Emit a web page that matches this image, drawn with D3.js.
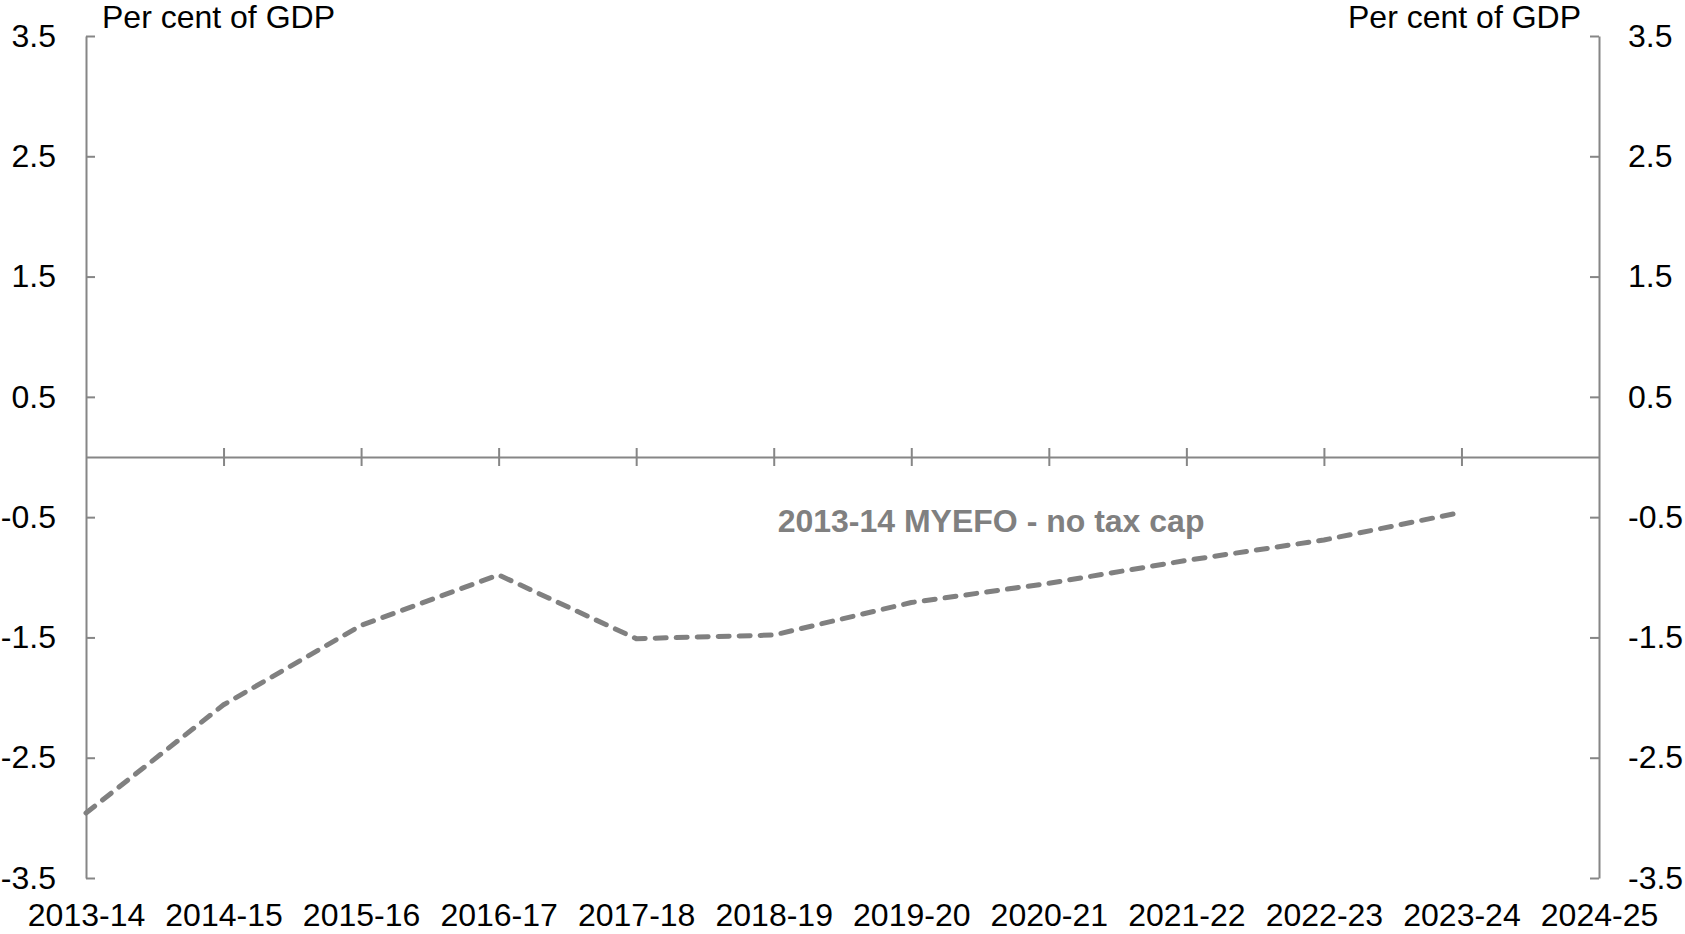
<!DOCTYPE html>
<html>
<head>
<meta charset="utf-8">
<script src="https://cdn.jsdelivr.net/npm/d3@7"></script>
<style>
  html, body { margin: 0; padding: 0; background: #ffffff; }
  svg { display: block; }
  text { font-family: "Liberation Sans", Arial, sans-serif; }
</style>
</head>
<body>
<svg id="chart" width="1685" height="934"></svg>
<script>
// ---- data ----
const categories = ["2013-14","2014-15","2015-16","2016-17","2017-18","2018-19","2019-20","2020-21","2021-22","2022-23","2023-24","2024-25"];
const seriesName = "2013-14 MYEFO - no tax cap";
const seriesValues = [-2.96, -2.06, -1.40, -0.98, -1.51, -1.48, -1.21, -1.05, -0.86, -0.69, -0.46, null];
const yTickValues = [3.5, 2.5, 1.5, 0.5, -0.5, -1.5, -2.5, -3.5];
const yTickLabels = ["3.5","2.5","1.5","0.5","-0.5","-1.5","-2.5","-3.5"];
const yDomain = [-3.5, 3.5];
const unitLabel = "Per cent of GDP";

(function () {
// ---- layout ----
const plotLeft = 86, plotRight = 1599, plotTop = 36, plotBottom = 878;
const axisColor = "#868686";
const seriesColor = "#808080";
const fontSize = 32;

const svg = d3.select("#chart");

const x = d3.scalePoint().domain(categories).range([plotLeft, plotRight]);
const y = d3.scaleLinear().domain(yDomain).range([plotBottom, plotTop]);

const fmt = d => yTickLabels[yTickValues.indexOf(d)];

// left axis
const gL = svg.append("g").attr("transform", `translate(${plotLeft},0)`)
  .call(d3.axisLeft(y).tickValues(yTickValues).tickFormat(fmt).tickSizeInner(-9).tickSizeOuter(0).tickPadding(30));
// right axis
const gR = svg.append("g").attr("transform", `translate(${plotRight},0)`)
  .call(d3.axisRight(y).tickValues(yTickValues).tickFormat(fmt).tickSizeInner(-9).tickSizeOuter(0).tickPadding(29));

[gL, gR].forEach(g => {
  g.select(".domain").attr("stroke", axisColor).attr("stroke-width", 2);
  g.selectAll(".tick line").attr("stroke", axisColor).attr("stroke-width", 2);
  g.selectAll(".tick text").attr("fill", "#000").style("font-size", fontSize + "px");
});

// x axis at zero line with crossing ticks
const gX = svg.append("g").attr("transform", `translate(0,${y(0)})`)
  .call(d3.axisBottom(x).tickFormat("").tickSizeInner(9).tickSizeOuter(0));
gX.select(".domain").attr("stroke", axisColor).attr("stroke-width", 2);
gX.selectAll(".tick line").attr("stroke", axisColor).attr("stroke-width", 2).attr("y1", -9).attr("y2", 9);
gX.selectAll(".tick").filter((d, i) => i === 0 || i === categories.length - 1).select("line").remove();

// x labels at bottom
const gXL = svg.append("g").attr("transform", `translate(0,${plotBottom})`)
  .call(d3.axisBottom(x).tickSize(0).tickPadding(25));
gXL.select(".domain").remove();
gXL.selectAll(".tick text").attr("fill", "#000").style("font-size", fontSize + "px");

// unit labels
svg.append("text").attr("x", 102).attr("y", 28).attr("fill", "#000")
  .style("font-size", fontSize + "px").text(unitLabel);
svg.append("text").attr("x", 1581).attr("y", 28).attr("text-anchor", "end").attr("fill", "#000")
  .style("font-size", fontSize + "px").text(unitLabel);

// series line
const line = d3.line()
  .defined(d => d.v !== null)
  .x(d => x(d.c))
  .y(d => y(d.v));
const pts = categories.map((c, i) => ({c, v: seriesValues[i]}));
svg.append("path").datum(pts)
  .attr("d", line)
  .attr("fill", "none")
  .attr("stroke", seriesColor)
  .attr("stroke-width", 5)
  .attr("stroke-dasharray", "11,10")
  .attr("stroke-linecap", "round")
  .attr("stroke-linejoin", "round");

// series label
svg.append("text")
  .attr("x", (x("2019-20") + x("2020-21")) / 2 + 11)
  .attr("y", y(-0.5) + 15)
  .attr("text-anchor", "middle")
  .attr("fill", seriesColor)
  .style("font-size", fontSize + "px")
  .style("font-weight", "bold")
  .text(seriesName);
})();
</script>
</body>
</html>
